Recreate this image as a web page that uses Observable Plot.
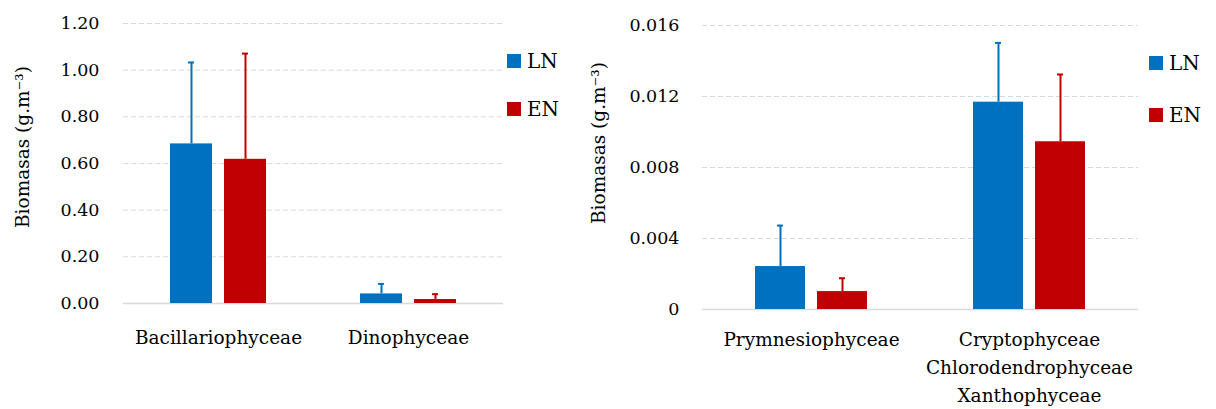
<!DOCTYPE html>
<html>
<head>
<meta charset="utf-8">
<script src="https://cdn.jsdelivr.net/npm/d3@7"></script>
<script src="https://cdn.jsdelivr.net/npm/@observablehq/plot@0.6"></script>
<style>
  html, body { margin: 0; padding: 0; background: #fff; }
  #wrap { position: relative; width: 1216px; height: 409px; overflow: hidden; font-family: "DejaVu Serif", serif; color: #000; }
  .panel { position: absolute; top: 0; }
  .ytitle { position: absolute; font-size: 18.5px; white-space: nowrap; transform: translate(-50%, -50%) rotate(-90deg); }
  .leg { position: absolute; font-size: 20px; display: flex; align-items: center; white-space: nowrap; }
  .leg span.sw { display: inline-block; width: 14px; height: 14px; margin-right: 6px; }
</style>
</head>
<body>
<div id="wrap"></div>
<script>
// ---- data ----
const seriesNames = ["LN", "EN"];
const seriesColors = ["#0070C0", "#C00000"];

const leftCats = ["Bacillariophyceae", "Dinophyceae"];
const leftLN = [0.684, 0.041];
const leftLNerr = [0.349, 0.043];
const leftEN = [0.618, 0.017];
const leftENerr = [0.453, 0.023];
const leftTicks = [0, 0.2, 0.4, 0.6, 0.8, 1.0, 1.2];

const rightCats = ["Prymnesiophyceae", "Cryptophyceae\nChlorodendrophyceae\nXanthophyceae"];
const rightLN = [0.00242, 0.01168];
const rightLNerr = [0.00231, 0.00334];
const rightEN = [0.00101, 0.00945];
const rightENerr = [0.00075, 0.00379];
const rightTicks = [0, 0.004, 0.008, 0.012, 0.016];

const yTitle = "Biomasas (g.m\u207B\u00B3)";

function rows(cats, ln, lnErr, en, enErr) {
  const out = [];
  cats.forEach((c, i) => {
    out.push({category: c, series: "LN", value: ln[i], err: lnErr[i]});
    out.push({category: c, series: "EN", value: en[i], err: enErr[i]});
  });
  return out;
}

function panel(opts) {
  const data = rows(opts.cats, opts.ln, opts.lnErr, opts.en, opts.enErr);
  const color = {domain: seriesNames, range: seriesColors};
  return Plot.plot({
    width: opts.width,
    height: 409,
    marginLeft: opts.marginLeft,
    marginRight: opts.marginRight,
    marginTop: opts.marginTop,
    marginBottom: opts.marginBottom,
    style: {fontFamily: "DejaVu Serif", background: "transparent", color: "#000", overflow: "visible"},
    fx: {domain: opts.cats, padding: 0, label: null, axis: null},
    x: {domain: seriesNames, paddingInner: opts.padIn, paddingOuter: opts.padOut, axis: null},
    y: {domain: [opts.ticks[0], opts.ticks[opts.ticks.length - 1]], axis: null},
    color: color,
    marks: [
      Plot.gridY(opts.ticks.filter(t => t !== 0), {stroke: "#d9d9d9", strokeOpacity: 1, strokeDasharray: "5,3", strokeWidth: 1}),
      Plot.ruleY([0], {stroke: "#d9d9d9", strokeWidth: 1.5}),
      Plot.barY(data, {fx: "category", x: "series", y: "value", fill: "series"}),
      Plot.ruleX(data, {fx: "category", x: "series", y1: "value", y2: d => d.value + d.err, stroke: "series", strokeWidth: 2}),
      Plot.tickY(data, {fx: "category", x: "series", y: d => d.value + d.err, stroke: "series", strokeWidth: 2, inset: opts.capInset}),
      Plot.axisY(opts.ticks, {tickSize: 0, tickPadding: opts.tickPad, tickFormat: opts.fmt, fontSize: 17.5, label: null}),
      Plot.axisFx({anchor: "bottom", tickSize: 0, tickPadding: opts.fxPad, fontSize: 18.5, lineHeight: 1.5, label: null})
    ]
  });
}

const wrap = document.getElementById("wrap");

const left = panel({
  cats: leftCats, ln: leftLN, lnErr: leftLNerr, en: leftEN, enErr: leftENerr, ticks: leftTicks,
  width: 510, marginLeft: 123, marginRight: 7, marginTop: 23, marginBottom: 106,
  padIn: 0.222, padOut: 0.87, capInset: 18, tickPad: 24, fxPad: 21,
  fmt: d3.format(".2f")
});
left.classList.add("panel");
left.style.left = "0px";
wrap.appendChild(left);

const right = panel({
  cats: rightCats, ln: rightLN, lnErr: rightLNerr, en: rightEN, enErr: rightENerr, ticks: rightTicks,
  width: 600, marginLeft: 141, marginRight: 22, marginTop: 25, marginBottom: 100,
  padIn: 0.2, padOut: 0.842, capInset: 22, tickPad: 23, fxPad: 17,
  fmt: d => d === 0 ? "0" : d.toFixed(3)
});
right.classList.add("panel");
right.style.left = "560px";
wrap.appendChild(right);

// y titles
function addTitle(x, y) {
  const t = document.createElement("div");
  t.className = "ytitle";
  t.textContent = yTitle;
  t.style.left = x + "px";
  t.style.top = y + "px";
  wrap.appendChild(t);
}
addTitle(22, 147);
addTitle(598, 143);

// legends
function addLegend(x, y0, gap) {
  seriesNames.forEach((s, i) => {
    const d = document.createElement("div");
    d.className = "leg";
    d.style.left = x + "px";
    d.style.top = (y0 + i * gap - 12) + "px";
    d.style.height = "24px";
    const sw = document.createElement("span");
    sw.className = "sw";
    sw.style.background = seriesColors[i];
    d.appendChild(sw);
    const tx = document.createElement("span");
    tx.textContent = s;
    d.appendChild(tx);
    wrap.appendChild(d);
  });
}
addLegend(507, 61, 48);
addLegend(1149, 63, 52);
</script>
</body>
</html>
